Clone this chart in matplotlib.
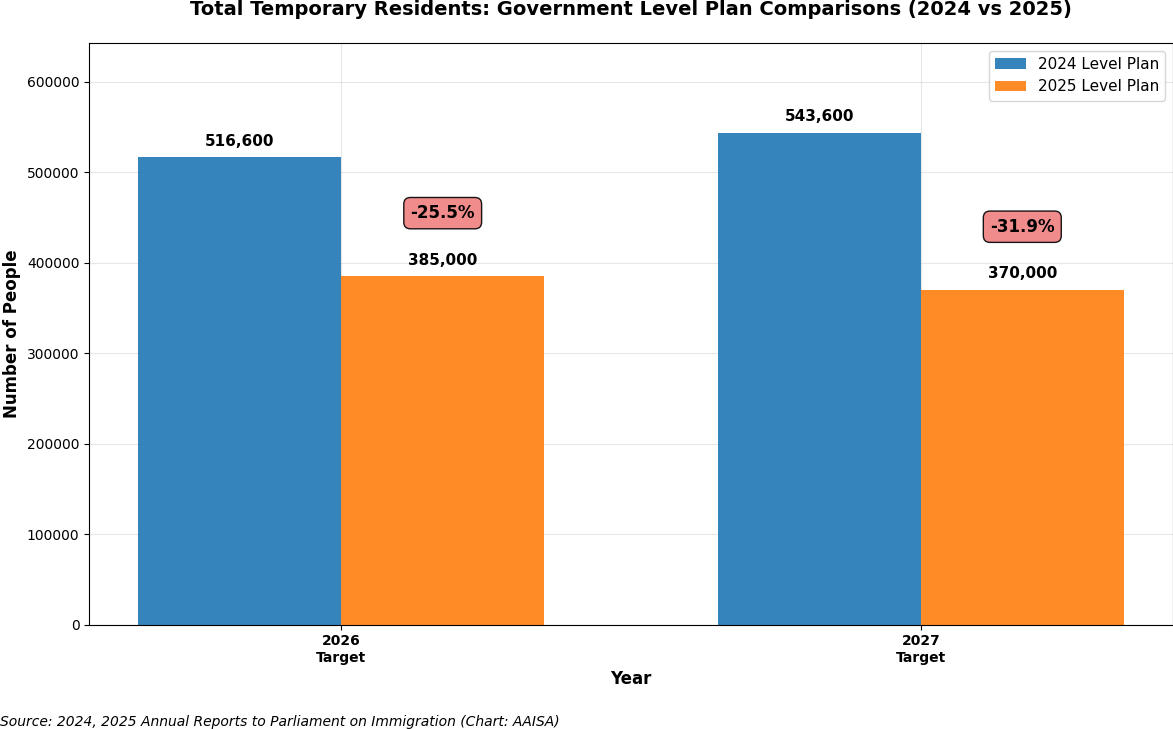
import matplotlib
matplotlib.use("Agg")
import matplotlib.pyplot as plt
import numpy as np

categories = ["2026\nTarget", "2027\nTarget"]
plan_2024 = [516600, 543600]
plan_2025 = [385000, 370000]
series_names = ["2024 Level Plan", "2025 Level Plan"]

fig, ax = plt.subplots(figsize=(11.73, 7.29), dpi=100)
x = np.arange(len(categories))
w = 0.35
b1 = ax.bar(x - w/2, plan_2024, w, label=series_names[0], color="#1f77b4", alpha=0.9)
b2 = ax.bar(x + w/2, plan_2025, w, label=series_names[1], color="#ff7f0e", alpha=0.9)

ymax = max(plan_2024 + plan_2025)
ax.set_ylim(0, ymax * 1.183)

for bars in (b1, b2):
    for bar in bars:
        h = bar.get_height()
        ax.text(bar.get_x() + bar.get_width()/2, h + ymax * 0.018, f"{int(h):,}",
                ha="center", va="bottom", fontsize=11, fontweight="bold")

for i, (a, b) in enumerate(zip(plan_2024, plan_2025)):
    pct = (b - a) / a * 100
    ax.text(x[i] + w/2, b + 70000, f"{pct:.1f}%", ha="center", va="center",
            fontsize=12, fontweight="bold",
            bbox=dict(boxstyle="round,pad=0.4", facecolor="lightcoral", alpha=0.9, edgecolor="black"))

ax.set_xticks(x)
ax.set_xticklabels(categories, fontweight="bold")
ax.set_xlabel("Year", fontsize=12, fontweight="bold")
ax.set_ylabel("Number of People", fontsize=12, fontweight="bold")
ax.set_title("Total Temporary Residents: Government Level Plan Comparisons (2024 vs 2025)",
             fontsize=14, fontweight="bold", pad=20)
ax.legend(fontsize=11, loc="upper right")
ax.grid(True, alpha=0.3)
ax.set_axisbelow(True)

fig.text(0.0, 0.0, "Source: 2024, 2025 Annual Reports to Parliament on Immigration (Chart: AAISA)",
         fontsize=10, style="italic", ha="left", va="bottom")
fig.subplots_adjust(left=0.076, right=1.0, top=0.941, bottom=0.143)
fig.savefig("out.png", dpi=100)
